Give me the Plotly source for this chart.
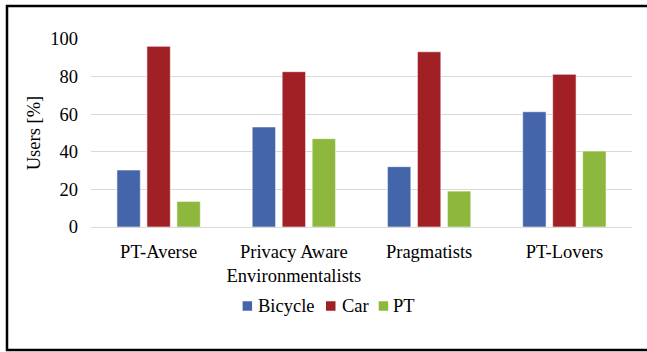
import plotly.graph_objects as go

# User groups and share of users per transport mode (%)
groups = ["PT-Averse", "Privacy Aware<br>Environmentalists", "Pragmatists", "PT-Lovers"]
bicycle = [30.3, 53.2, 32.1, 61.3]
car = [96.1, 82.6, 93.2, 81.2]
pt = [13.6, 47.0, 19.1, 40.4]

series = [("Bicycle", bicycle, "#4565AB"),
          ("Car", car, "#A12025"),
          ("PT", pt, "#8DB83D")]

W, H = 647, 352
L, R, T, B = 91, 15, 39, 125
pw, ph = W - L - R, H - T - B

def px_x(p):
    return (p - L) / pw

def px_y(p):
    return (H - B - p) / ph

FONT = "Liberation Serif"
SIZE = 18.5

fig = go.Figure()
for name, vals, color in series:
    fig.add_trace(go.Bar(
        x=groups, y=vals, name=name, showlegend=False,
        marker=dict(color=color, line=dict(color="rgba(255,255,255,0.55)", width=1)),
    ))

fig.update_layout(
    width=W, height=H,
    margin=dict(l=L, r=R, t=T, b=B),
    paper_bgcolor="white", plot_bgcolor="white",
    font=dict(family=FONT, size=SIZE, color="black"),
    barmode="group", bargap=0.335, bargroupgap=0.22,
    xaxis=dict(showgrid=False, showline=False, ticks="", ticklabelstandoff=11,
               tickfont=dict(family=FONT, size=SIZE, color="black")),
    yaxis=dict(range=[0, 100], dtick=20, showgrid=True, gridcolor="#D9D9D9",
               gridwidth=1, zeroline=True, zerolinecolor="#D9D9D9", zerolinewidth=1,
               showline=False, ticks="", ticklabelstandoff=12,
               tickfont=dict(family=FONT, size=SIZE, color="black"),
               title=dict(text="Users [%]", standoff=4,
                          font=dict(family=FONT, size=SIZE, color="black"))),
)

# Legend row below the axis: colour swatch followed by the series name
legend_swatch_x = [242.6, 326.0, 378.7]
legend_text_x = [256.0, 339.5, 391.0]
legend_y = 306.0
sw = 9.5
for (name, _, color), sx, tx in zip(series, legend_swatch_x, legend_text_x):
    fig.add_shape(type="rect", xref="paper", yref="paper",
                  x0=px_x(sx), x1=px_x(sx + sw),
                  y0=px_y(legend_y + sw / 2), y1=px_y(legend_y - sw / 2),
                  line=dict(width=0), fillcolor=color)
    fig.add_annotation(text=name, xref="paper", yref="paper",
                       x=px_x(tx), y=px_y(legend_y), xanchor="left", yanchor="middle",
                       showarrow=False, font=dict(family=FONT, size=SIZE, color="black"))

# Frame around the figure
fig.add_shape(type="rect", xref="paper", yref="paper",
              x0=px_x(7), x1=px_x(670), y0=px_y(6), y1=px_y(350),
              line=dict(color="black", width=2.5), fillcolor="rgba(0,0,0,0)", layer="above")

fig.write_html("out.html")
